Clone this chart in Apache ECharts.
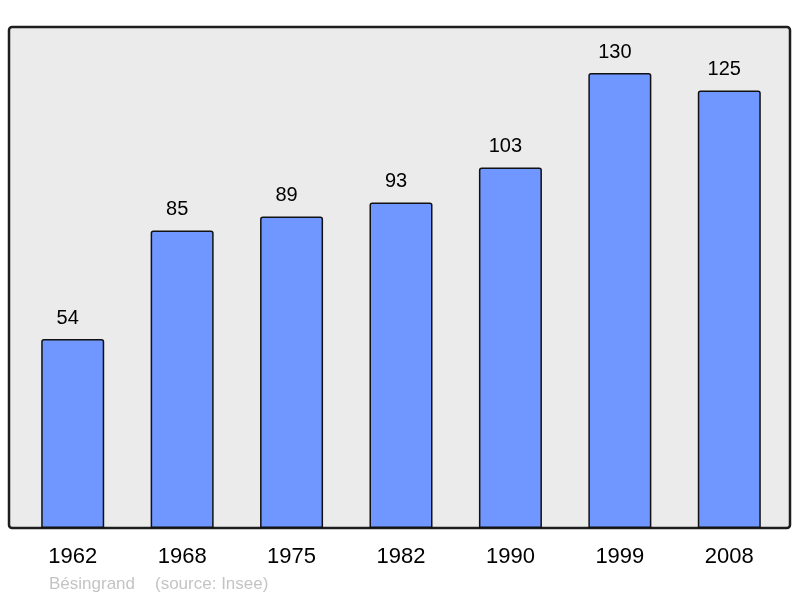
<!DOCTYPE html>
<html>
<head>
<meta charset="utf-8">
<script src="https://cdn.jsdelivr.net/npm/echarts@6/dist/echarts.min.js"></script>
<style>
html,body{margin:0;padding:0;background:#fff;}
#c{width:800px;height:598px;}
</style>
</head>
<body>
<div id="c"></div>
<script>
var years = ['1962', '1968', '1975', '1982', '1990', '1999', '2008'];
var population = [54, 85, 89, 93, 103, 130, 125];
var footerName = 'Bésingrand';
var footerSource = '(source: Insee)';

var chart = echarts.init(document.getElementById('c'), null, {renderer: 'canvas'});
chart.setOption({
  animation: false,
  backgroundColor: '#ffffff',
  grid: {left: 18, right: 16, top: 27, bottom: 70},
  xAxis: {
    type: 'category',
    data: years,
    axisLine: {show: false},
    axisTick: {show: false},
    axisLabel: {
      margin: 18,
      fontSize: 22,
      lineHeight: 22,
      color: '#000',
      fontFamily: 'Liberation Sans, Arial, sans-serif'
    }
  },
  yAxis: {
    type: 'value',
    min: 0,
    max: 143.14,
    show: false,
    splitLine: {show: false}
  },
  graphic: [
    {
      type: 'rect',
      z: -10,
      shape: {x: 9, y: 27, width: 781, height: 501, r: 3},
      style: {fill: '#ebebeb', stroke: '#1e1e1e', lineWidth: 2.5}
    },
    {
      type: 'text',
      left: 49, top: 576,
      style: {text: footerName, fill: '#c4c4c4', fontSize: 17, fontFamily: 'Liberation Sans, Arial, sans-serif'}
    },
    {
      type: 'text',
      left: 155, top: 576,
      style: {text: footerSource, fill: '#c4c4c4', fontSize: 17, fontFamily: 'Liberation Sans, Arial, sans-serif'}
    }
  ],
  series: [{
    type: 'bar',
    data: population,
    barWidth: 63,
    itemStyle: {
      color: '#7096ff',
      borderColor: '#111',
      borderWidth: 1.5,
      borderRadius: [2, 2, 0, 0]
    },
    label: {
      show: true,
      position: 'top',
      distance: 11,
      offset: [-5, 0],
      fontSize: 20,
      color: '#000',
      fontFamily: 'Liberation Sans, Arial, sans-serif'
    }
  }]
});
</script>
</body>
</html>
